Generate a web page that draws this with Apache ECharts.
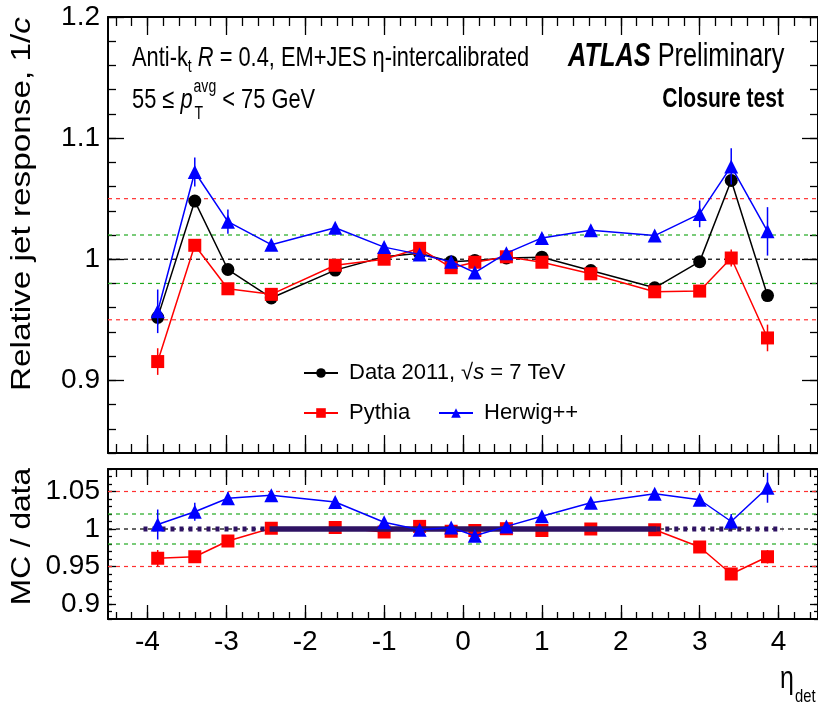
<!DOCTYPE html>
<html>
<head>
<meta charset="utf-8">
<script src="https://cdn.jsdelivr.net/npm/echarts@6/dist/echarts.min.js"></script>
<style>
  html, body { margin: 0; padding: 0; background: #fff; }
  #chart { width: 818px; height: 703px; }
</style>
</head>
<body>
<div id="chart"></div>
<script>
// eta_det bin positions of the measured points
const etaBins = [-3.87, -3.4, -2.98, -2.43, -1.62, -1.0, -0.55, -0.15, 0.15, 0.55, 1.0, 1.62, 2.43, 3.0, 3.4, 3.86];

// Relative jet response 1/c
const respData   = [0.952, 1.048, 0.9915, 0.968, 0.991, 1.002, 1.005, 0.998, 0.999, 1.001, 1.0017, 0.9907, 0.9764, 0.998, 1.065, 0.970];
const respPythia = [0.9155, 1.0115, 0.9756, 0.971, 0.995, 1.0, 1.009, 0.993, 0.9975, 1.002, 0.9975, 0.988, 0.9731, 0.9737, 1.001, 0.935];
const respHerwig = [0.957, 1.072, 1.031, 1.012, 1.026, 1.010, 1.004, 0.998, 0.989, 1.005, 1.0176, 1.024, 1.0195, 1.0374, 1.0766, 1.023];
const errData    = [0.006, 0.004, 0.003, 0.002, 0.002, 0.002, 0.002, 0.002, 0.002, 0.002, 0.002, 0.002, 0.002, 0.003, 0.004, 0.004];
const errPythia  = [0.011, 0.005, 0.004, 0.003, 0.003, 0.002, 0.002, 0.002, 0.002, 0.002, 0.002, 0.003, 0.003, 0.004, 0.007, 0.011];
const errHerwig  = [0.018, 0.012, 0.010, 0.004, 0.004, 0.003, 0.003, 0.003, 0.003, 0.003, 0.003, 0.004, 0.004, 0.011, 0.015, 0.020];

// MC / data ratios
const ratioPythia    = [0.961, 0.963, 0.984, 1.001, 1.002, 0.996, 1.0035, 0.997, 0.998, 1.0004, 0.998, 1.0, 0.999, 0.976, 0.940, 0.963];
const ratioHerwig    = [1.006, 1.023, 1.041, 1.045, 1.036, 1.009, 0.999, 1.002, 0.991, 1.0035, 1.017, 1.035, 1.047, 1.039, 1.010, 1.055];
const errRatioPythia = [0.011, 0.006, 0.005, 0.003, 0.003, 0.002, 0.002, 0.002, 0.002, 0.002, 0.002, 0.003, 0.003, 0.004, 0.005, 0.009];
const errRatioHerwig = [0.020, 0.012, 0.008, 0.004, 0.004, 0.003, 0.003, 0.003, 0.003, 0.003, 0.003, 0.004, 0.004, 0.006, 0.010, 0.020];

// Unity reference in the ratio panel: dotted / solid / dotted segments
const unityEdges = [-4.05, -2.45, 2.45, 4.05];
const unityLevel = 1.0;
const outerBand = [0.95, 1.05];
const innerBand = [0.98, 1.02];

// Axis ranges and tick labels
const xRange = [-4.5, 4.5];
const yTopRange = [0.84, 1.2];
const yBotRange = [0.88, 1.08];
const xTickLabels = [-4, -3, -2, -1, 0, 1, 2, 3, 4];
const yTopTickLabels = [0.9, 1.0, 1.1, 1.2];
const yBotTickLabels = [0.9, 0.95, 1.0, 1.05];

const FONT = '"Liberation Sans", Arial, sans-serif';
const SX = 0.78;   // horizontal condensation applied to annotation text

function steps(from, to, step) {
  const out = [];
  const n = Math.round((to - from) / step);
  for (let i = 0; i <= n; i++) out.push(Math.round((from + i * step) * 1000) / 1000);
  return out;
}
const xMinor = steps(-4.4, 4.4, 0.2);
const yTopMinor = steps(0.84, 1.2, 0.02);
const yBotMinor = steps(0.88, 1.08, 0.01);

const fmt = v => String(+(+v).toFixed(3));

function axis(gridIndex, position, range, ticks, tickLen, showLine, labels) {
  return {
    type: 'value', gridIndex, position, min: range[0], max: range[1],
    axisLine: { show: showLine, onZero: false, lineStyle: { color: '#000', width: 2 } },
    axisTick: { show: true, inside: true, length: tickLen, customValues: ticks,
                lineStyle: { color: '#000', width: 1.3 } },
    axisLabel: labels ? { show: true, customValues: labels, formatter: fmt,
                color: '#000', fontFamily: FONT, fontSize: 28 } : { show: false },
    splitLine: { show: false }
  };
}

const xAxes = [
  axis(0, 'bottom', xRange, xTickLabels, 18, true, null),
  axis(0, 'bottom', xRange, xMinor, 9, false, null),
  axis(0, 'top', xRange, xTickLabels, 18, true, null),
  axis(0, 'top', xRange, xMinor, 9, false, null),
  axis(1, 'bottom', xRange, xTickLabels, 14, true, xTickLabels),
  axis(1, 'bottom', xRange, xMinor, 7, false, null),
  axis(1, 'top', xRange, xTickLabels, 16, true, null),
  axis(1, 'top', xRange, xMinor, 8, false, null)
];
xAxes[4].axisLabel.margin = 9;

const yAxes = [
  axis(0, 'left', yTopRange, yTopTickLabels, 16, true, yTopTickLabels),
  axis(0, 'left', yTopRange, yTopMinor, 8, false, null),
  axis(0, 'right', yTopRange, yTopTickLabels, 16, true, null),
  axis(0, 'right', yTopRange, yTopMinor, 8, false, null),
  axis(1, 'left', yBotRange, yBotTickLabels, 8, true, yBotTickLabels),
  axis(1, 'left', yBotRange, yBotMinor, 4, false, null),
  axis(1, 'right', yBotRange, yBotTickLabels, 8, true, null),
  axis(1, 'right', yBotRange, yBotMinor, 4, false, null)
];
yAxes[0].axisLabel.margin = 8;
yAxes[4].axisLabel.margin = 8;

function refLine(xi, yi, level, color) {
  return {
    type: 'line', xAxisIndex: xi, yAxisIndex: yi, silent: true, symbol: 'none', z: 1,
    lineStyle: { color, width: 1.2, type: [4, 4] },
    data: [[xRange[0], level], [xRange[1], level]]
  };
}

function errorBars(xi, yi, values, errs, color, z) {
  return {
    type: 'custom', xAxisIndex: xi, yAxisIndex: yi, silent: true, z,
    encode: { x: 0, y: [1, 2] },
    renderItem: (params, api) => {
      const a = api.coord([api.value(0), api.value(1)]);
      const b = api.coord([api.value(0), api.value(2)]);
      return { type: 'line', shape: { x1: a[0], y1: a[1], x2: b[0], y2: b[1] },
               style: { stroke: color, lineWidth: 1.5 } };
    },
    data: etaBins.map((x, i) => [x, values[i] - errs[i], values[i] + errs[i]])
  };
}

function points(name, xi, yi, values, color, symbol, size, z) {
  return {
    name, type: 'line', xAxisIndex: xi, yAxisIndex: yi, z,
    symbol, symbolSize: size, showAllSymbol: true,
    lineStyle: { color, width: 1.5 },
    itemStyle: { color, borderWidth: 0 },
    emphasis: { disabled: true },
    data: etaBins.map((x, i) => [x, values[i]])
  };
}

const NAME_DATA = 'Data 2011, √s = 7 TeV';
const PURPLE = '#2e1263';
const RED = '#ff0000', BLUE = '#0000ff', GREEN = '#22aa22', DRED = '#ff3030';

const series = [];
outerBand.forEach(l => series.push(refLine(0, 0, l, DRED)));
innerBand.forEach(l => series.push(refLine(0, 0, l, GREEN)));
series.push(refLine(0, 0, unityLevel, '#000'));
outerBand.forEach(l => series.push(refLine(4, 4, l, DRED)));
innerBand.forEach(l => series.push(refLine(4, 4, l, GREEN)));
series.push(refLine(4, 4, unityLevel, '#000'));

// response panel
series.push(errorBars(0, 0, respData, errData, '#000', 3));
series.push(points(NAME_DATA, 0, 0, respData, '#000', 'circle', 13, 3));
series.push(errorBars(0, 0, respPythia, errPythia, RED, 4));
series.push(points('Pythia', 0, 0, respPythia, RED, 'rect', 13, 4));
series.push(errorBars(0, 0, respHerwig, errHerwig, BLUE, 5));
series.push(points('Herwig++', 0, 0, respHerwig, BLUE, 'triangle', 14, 5));

// ratio panel
series.push(errorBars(4, 4, ratioPythia, errRatioPythia, RED, 3));
series.push(points('Pythia ratio', 4, 4, ratioPythia, RED, 'rect', 13, 3));
[[0, 1, [4, 5], 5], [1, 2, 'solid', 5.5], [2, 3, [4, 5], 5]].forEach(([a, b, type, w]) => {
  series.push({
    type: 'line', xAxisIndex: 4, yAxisIndex: 4, silent: true, symbol: 'none', z: 4,
    lineStyle: { color: PURPLE, width: w, type, cap: 'butt' },
    data: [[unityEdges[a], unityLevel], [unityEdges[b], unityLevel]]
  });
});
series.push(errorBars(4, 4, ratioHerwig, errRatioHerwig, BLUE, 5));
series.push(points('Herwig ratio', 4, 4, ratioHerwig, BLUE, 'triangle', 14, 5));

// condensed text runs: consecutive segments laid out with measured widths
const measureCtx = document.createElement('canvas').getContext('2d');
function fontStr(s) {
  return `${s.italic ? 'italic ' : ''}${s.bold ? 'bold ' : ''}${s.size}px ${FONT}`;
}
function widthOf(s) {
  measureCtx.font = fontStr(s);
  return measureCtx.measureText(s.t).width * SX;
}
function textEl(x, y, s, align) {
  return {
    type: 'text', x, y, scaleX: SX, silent: true,
    style: { text: s.t, font: fontStr(s), fill: '#000', textAlign: align || 'left',
             textVerticalAlign: 'middle', verticalAlign: 'middle' }
  };
}
function textRun(x, y, segs) {
  const out = [];
  let cx = x;
  segs.forEach(s => {
    out.push(textEl(cx, y + (s.dy || 0), s));
    cx += widthOf(s);
  });
  out.end = cx;
  return out;
}

const graphics = [];
graphics.push(...textRun(132, 58, [
  { t: 'Anti-k', size: 28 },
  { t: 't', size: 18, dy: 9 },
  { t: ' ', size: 28 },
  { t: 'R', size: 28, italic: true },
  { t: ' = 0.4, EM+JES η-intercalibrated', size: 28 }
]));
(function () {
  const head = textRun(132, 100, [{ t: '55 ≤ ', size: 28 }, { t: 'p', size: 28, italic: true }]);
  graphics.push(...head);
  const xs = head.end + 1;
  const sup = textRun(xs, 87, [{ t: 'avg', size: 18 }]);
  graphics.push(...sup);
  graphics.push(...textRun(xs + 1, 114, [{ t: 'T', size: 18 }]));
  graphics.push(...textRun(sup.end, 100, [{ t: ' < 75 GeV', size: 28 }]));
})();
graphics.push(...textRun(568, 57, [
  { t: 'ATLAS', size: 32.5, italic: true, bold: true },
  { t: ' Preliminary', size: 32.5 }
]));
graphics.push(textEl(784, 100, { t: 'Closure test', size: 27, bold: true }, 'right'));

// axis titles
graphics.push({
  type: 'text', x: 22, y: 17, rotation: Math.PI / 2, scaleX: 1.19, silent: true,
  style: {
    text: '{n|Relative jet response, 1/}{i|c}', textAlign: 'right', textVerticalAlign: 'middle', verticalAlign: 'middle',
    rich: { n: { fontFamily: FONT, fontSize: 28, color: '#000' },
            i: { fontFamily: FONT, fontSize: 28, fontStyle: 'italic', color: '#000' } }
  }
});
graphics.push({
  type: 'text', x: 22, y: 468, rotation: Math.PI / 2, scaleX: 1.13, silent: true,
  style: { text: 'MC / data', font: `28px ${FONT}`, fill: '#000', textAlign: 'right', textVerticalAlign: 'middle', verticalAlign: 'middle' }
});
graphics.push(textEl(794, 679, { t: 'η', size: 32 }, 'right'));
graphics.push(textEl(795, 697, { t: 'det', size: 19 }, 'left'));

const legendBase = {
  orient: 'horizontal', selectedMode: false, padding: 0,
  itemWidth: 34, itemHeight: 12,
  textStyle: { fontFamily: FONT, fontSize: 22, color: '#000', padding: [0, 0, 0, 6],
    rich: { a: { fontFamily: FONT, fontSize: 22, color: '#000' },
            i: { fontFamily: FONT, fontSize: 22, color: '#000', fontStyle: 'italic' } } }
};
const legends = [
  Object.assign({}, legendBase, { data: [NAME_DATA], left: 303, top: 362,
    formatter: () => '{a|Data 2011, √}{i|s}{a| = 7 TeV}' }),
  Object.assign({}, legendBase, { data: ['Pythia'], left: 303, top: 402 }),
  Object.assign({}, legendBase, { data: ['Herwig++'], left: 438, top: 402 })
];

const chart = echarts.init(document.getElementById('chart'), null, { renderer: 'canvas' });
chart.setOption({
  animation: false,
  backgroundColor: '#fff',
  grid: [
    { left: 108, top: 17, width: 711, height: 436, containLabel: false },
    { left: 108, top: 469, width: 711, height: 150, containLabel: false }
  ],
  xAxis: xAxes,
  yAxis: yAxes,
  legend: legends,
  series,
  graphic: { elements: graphics }
});
</script>
</body>
</html>
